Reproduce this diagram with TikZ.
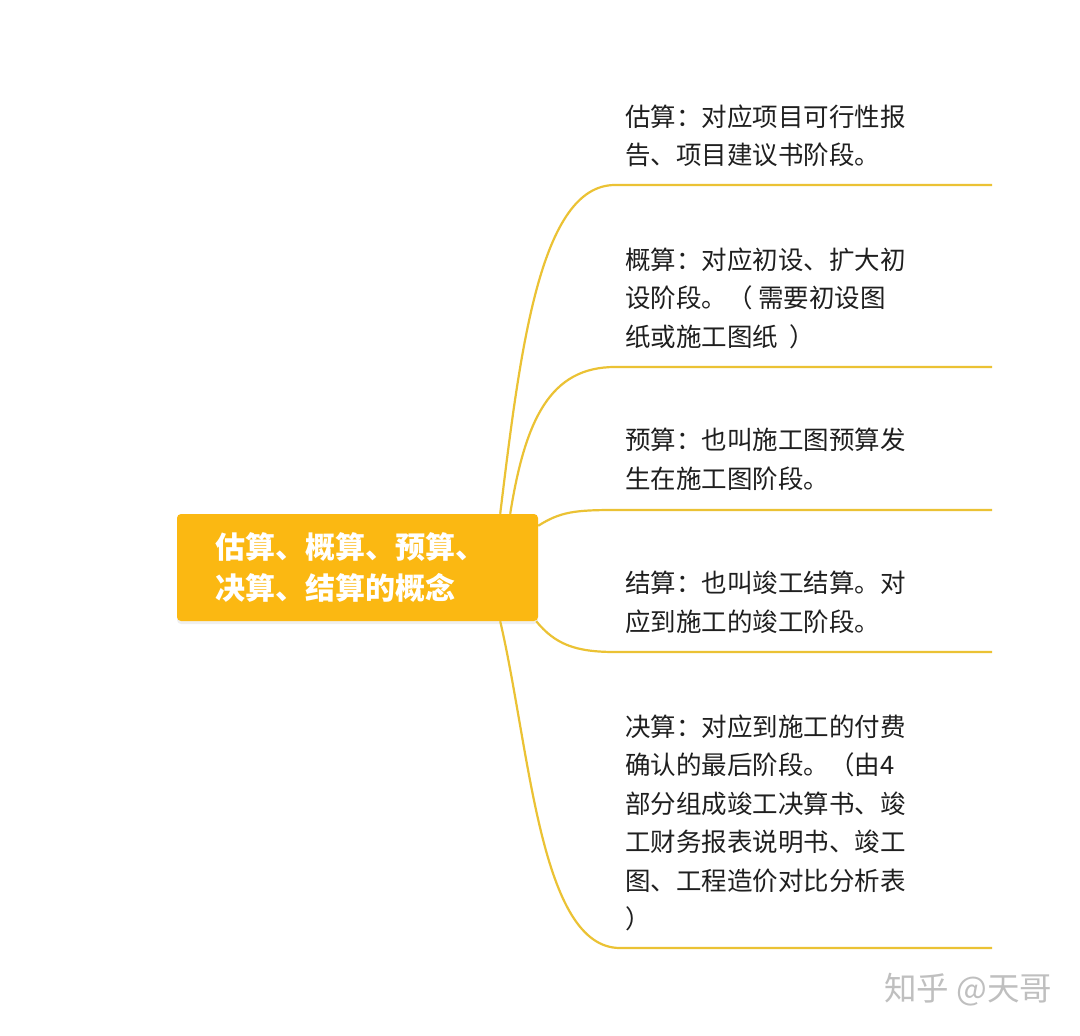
\documentclass[tikz,border=0pt]{standalone}
\usepackage{fontspec}
\usepackage{tikz}
\usetikzlibrary{shadows}
\newfontfamily\cjk{Noto Sans CJK SC}
\definecolor{hubfill}{HTML}{FBB812}
\definecolor{branchline}{HTML}{EBC234}
\tikzset{
  hubbox/.style={rectangle, rounded corners=4pt, fill=hubfill, text=white,
    minimum width=361pt, minimum height=107pt, text width=285pt, inner xsep=38pt,
    align=left, font=\cjk\bfseries\fontsize{30}{41}\selectfont,
    drop shadow={opacity=0.12, shadow xshift=0pt, shadow yshift=-3pt}},
  leaf/.style={anchor=west, inner sep=0pt, align=left, text=black!88,
    font=\cjk\fontsize{25.5}{38.5}\selectfont},
  branch/.style={draw=branchline, line width=2.2pt}
}

\begin{document}
\begin{tikzpicture}[x=1pt,y=-1pt]
\fill[white] (0,0) rectangle (1080,1036);
\useasboundingbox (0,0) rectangle (1080,1036);

\node[hubbox] (hub) at (357.5,567.5) {估算、概算、预算、\\决算、结算的概念};

\node[leaf] (gusuan) at (625,136) {估算：对应项目可行性报\\告、项目建议书阶段。};
\node[leaf] (gaisuan) at (625,298) {概算：对应初设、扩大初\\设阶段。（ 需要初设图\\纸或施工图纸 \ ）};
\node[leaf] (yusuan) at (625,459.5) {预算：也叫施工图预算发\\生在施工图阶段。};
\node[leaf] (jiesuan) at (625,602.5) {结算：也叫竣工结算。对\\应到施工的竣工阶段。};
\node[leaf] (juesuan) at (625,823) {决算：对应到施工的付费\\确认的最后阶段。（由4\\部分组成竣工决算书、竣\\工财务报表说明书、竣工\\图、工程造价对比分析表\\）};

\coordinate (k1) at (615,185); \coordinate (e1) at (992,185);
\coordinate (k2) at (615,367); \coordinate (e2) at (992,367);
\coordinate (k3) at (615,510); \coordinate (e3) at (992,510);
\coordinate (k4) at (615,652); \coordinate (e4) at (992,652);
\coordinate (k5) at (620,948); \coordinate (e5) at (992,948);

\draw[branch] ([xshift=-38pt]hub.north east) .. controls +(20,-164) and +(-75,0) .. (k1) -- (e1);
\draw[branch] ([xshift=-28pt]hub.north east) .. controls +(15,-94) and +(-65,0) .. (k2) -- (e2);
\draw[branch] ([yshift=-12pt]hub.north east) .. controls +(22,-14) and +(-40,0) .. (k3) -- (e3);
\draw[branch] ([xshift=-2pt]hub.south east) .. controls +(19,23) and +(-40,0) .. (k4) -- (e4);
\draw[branch] ([xshift=-38pt]hub.south east) .. controls +(30,129) and +(-80,0) .. (k5) -- (e5);

\node[anchor=west, inner sep=0pt, text=black!25, font=\cjk\fontsize{32.5}{32.5}\selectfont] (mark) at (884,990) {知乎 @天哥};
\end{tikzpicture}
\end{document}
